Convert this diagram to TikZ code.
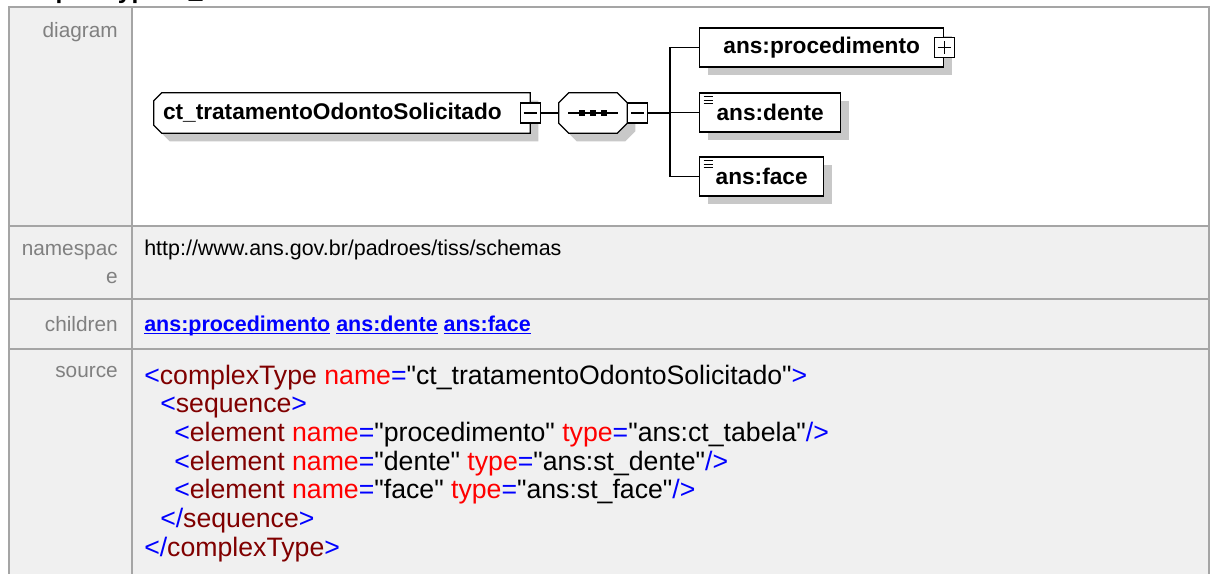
\documentclass[tikz,border=0pt]{standalone}
\usepackage{fontspec}
\setmainfont{Liberation Sans}
\newfontfamily\srcfont{Liberation Sans}
\usepackage{tikz}
\usetikzlibrary{positioning,shadows}
\pgfdeclarelayer{tbl}
\pgfdeclarelayer{shapes}
\pgfsetlayers{tbl,shapes,main}
\definecolor{gridgray}{RGB}{165,165,165}
\definecolor{cellgray}{RGB}{240,240,240}
\definecolor{lblgray}{RGB}{128,128,128}
\definecolor{shadowgray}{RGB}{200,200,200}
\definecolor{linkblue}{RGB}{0,0,255}
\definecolor{xmlblue}{RGB}{0,0,255}
\definecolor{xmltag}{RGB}{128,0,0}
\definecolor{xmlattr}{RGB}{255,0,0}
\newcommand\xb[1]{\textcolor{xmlblue}{#1}}
\newcommand\xt[1]{\textcolor{xmltag}{#1}}
\newcommand\xa[1]{\textcolor{xmlattr}{#1}}
\newcommand\lnk[1]{\textcolor{linkblue}{\setbox0\hbox{\bfseries #1}\rlap{\rule[-2.4pt]{\wd0}{1pt}}\box0}}
% outline of a node with cut corners: node, left cut, right cut
\newcommand\chpath[3]{([xshift=#2]#1.north west) -- ([xshift=-#3]#1.north east)
  -- ([yshift=-#3]#1.north east) -- ([yshift=#3]#1.south east)
  -- ([xshift=-#3]#1.south east) -- ([xshift=#2]#1.south west)
  -- ([yshift=#2]#1.south west) -- ([yshift=-#2]#1.north west) -- cycle}
\tikzset{
  tblline/.style = {draw=gridgray, line width=1.5pt},
  lbl/.style     = {anchor=base east, inner sep=0pt, text=lblgray,
                    font=\fontsize{15.6}{18}\selectfont},
  txt/.style     = {anchor=base west, inner sep=0pt, font=\fontsize{16.1}{19}\selectfont},
  src/.style     = {anchor=base west, inner sep=0pt, font=\srcfont\fontsize{20}{22}\selectfont},
  dfont/.style   = {font=\fontsize{17}{19}\selectfont\bfseries},
  elem/.style    = {dfont, draw, fill=white, line width=1pt, inner sep=0pt, anchor=west,
                    minimum height=29.25pt,
                    general shadow={fill=shadowgray, shadow xshift=6pt, shadow yshift=-6pt}},
  simple/.style  = {path picture={\foreach \k in {1,2,3}
                      \draw[line width=0.6pt] ([xshift=3pt,yshift={-0.3pt-2.5pt*\k}]path picture bounding box.north west) -- ++(6.75pt,0pt);}},
  outline/.style = {draw, fill=white, line width=1pt},
  shadowfill/.style = {fill=shadowgray, transform canvas={shift={(6pt,-6pt)}}},
  tog/.style     = {draw, fill=white, line width=0.8pt, minimum size=15pt, inner sep=0pt,
                    path picture={\draw[line width=0.8pt] ([xshift=2.5pt]path picture bounding box.west) -- ([xshift=-2.5pt]path picture bounding box.east);}},
  togplus/.style = {draw, fill=white, line width=0.8pt, minimum size=15pt, inner sep=0pt,
                    path picture={\draw[line width=0.8pt] ([xshift=2.5pt]path picture bounding box.west) -- ([xshift=-2.5pt]path picture bounding box.east);
                                  \draw[line width=0.8pt] ([yshift=-2.5pt]path picture bounding box.north) -- ([yshift=2.5pt]path picture bounding box.south);}},
  conn/.style    = {line width=1pt},
}
\begin{document}
\begin{tikzpicture}[x=0.75pt,y=-0.75pt]
    \useasboundingbox (0,0) rectangle (1214,574);
    % -- page title, cut off at the top -----------------------------
    \begin{scope}
        \clip (0,0) rectangle (1214,6);
        \node[anchor=base west, inner sep=0pt, font=\fontsize{18.4}{20}\selectfont\bfseries]
            (heading) at (5,-1.5) {complexType ct\_tratamentoOdontoSolicitado};
    \end{scope}

    % -- table -------------------------------------------------------
    \begin{pgfonlayer}{tbl}
        \fill[cellgray] (9,7) rectangle (1209,574);
        \fill[white] (132,7) rectangle (1209,226);
        \draw[tblline] (9,574) -- (9,7) -- (1209,7) -- (1209,574);
        \foreach \y in {226.5,298.5,348.5}{
            \draw[tblline] (9,\y) -- (1209,\y);
        }
        \draw[tblline] (132,7) -- (132,574);
    \end{pgfonlayer}

    % -- row labels --------------------------------------------------
    \node[lbl] (lbldiagram)  at (118,38)    {diagram};
    \node[lbl] (lblns)       at (118,256)   {namespac};
    \node[lbl] (lblnsb)      at (118,283)   {e};
    \node[lbl] (lblchildren) at (118,331)   {children};
    \node[lbl] (lblsource)   at (118,377.5) {source};

    % -- diagram -----------------------------------------------------
    \node[dfont, inner sep=0pt, minimum width=282pt, minimum height=30pt,
          text width=268.5pt, align=left] (ctype) at (342,113) {ct\_tratamentoOdontoSolicitado};
    \node[inner sep=0pt, minimum width=51pt, minimum height=30pt] (seq) at (593,113) {};
    \begin{pgfonlayer}{shapes}
        \fill[shadowfill] \chpath{ctype}{6pt}{0pt};
        \draw[outline]    \chpath{ctype}{6pt}{0pt};
        \fill[shadowfill] \chpath{seq}{7.5pt}{7.5pt};
        \draw[outline]    \chpath{seq}{7.5pt}{7.5pt};
    \end{pgfonlayer}
    \draw[line width=0.8pt] ([xshift=-18.75pt]seq.center) -- ([xshift=18.75pt]seq.center);
    \foreach \d in {-7.9pt,0pt,7.9pt}{
        \fill ([xshift=\d]seq.center) +(-2.25pt,-2.25pt) rectangle +(2.25pt,2.25pt);
    }
    \node[tog] (ctminus) at (ctype.east) {};
    \node[tog, right=0pt of seq] (seqminus) {};
    \coordinate (fork) at (670,113);

    \node[elem, minimum width=183pt] (proc) at (699,47.5) {ans:procedimento};
    \node[togplus] (procplus) at (proc.east) {};
    \node[elem, simple, minimum width=105.75pt] (dente) at (699,112.5) {ans:dente};
    \node[elem, simple, minimum width=93pt] (face) at (699,176.5) {ans:face};

    \draw[conn] (ctminus) -- (seq);
    \draw[conn] (seqminus) -- (fork);
    \foreach \c in {proc,dente,face}{
        \draw[conn] (fork) |- (\c.west);
    }

    % -- namespace and children --------------------------------------
    \node[txt] (nstext) at (144,256) {http://www.ans.gov.br/padroes/tiss/schemas};
    \node[txt] (links) at (144,331) {\lnk{ans:procedimento} \lnk{ans:dente} \lnk{ans:face}};

    % -- source ------------------------------------------------------
    \node[src] (src1) at (144,384)   {\xb{<}\xt{complexType} \xa{name}\xb{=}"ct\_tratamentoOdontoSolicitado"\xb{>}};
    \node[src] (src2) at (160,412.7) {\xb{<}\xt{sequence}\xb{>}};
    \node[src] (src3) at (174,441.4) {\xb{<}\xt{element} \xa{name}\xb{=}"procedimento" \xa{type}\xb{=}"ans:ct\_tabela"\xb{/>}};
    \node[src] (src4) at (174,470.1) {\xb{<}\xt{element} \xa{name}\xb{=}"dente" \xa{type}\xb{=}"ans:st\_dente"\xb{/>}};
    \node[src] (src5) at (174,498.8) {\xb{<}\xt{element} \xa{name}\xb{=}"face" \xa{type}\xb{=}"ans:st\_face"\xb{/>}};
    \node[src] (src6) at (160,527.5) {\xb{</}\xt{sequence}\xb{>}};
    \node[src] (src7) at (144,556.2) {\xb{</}\xt{complexType}\xb{>}};
\end{tikzpicture}
\end{document}
